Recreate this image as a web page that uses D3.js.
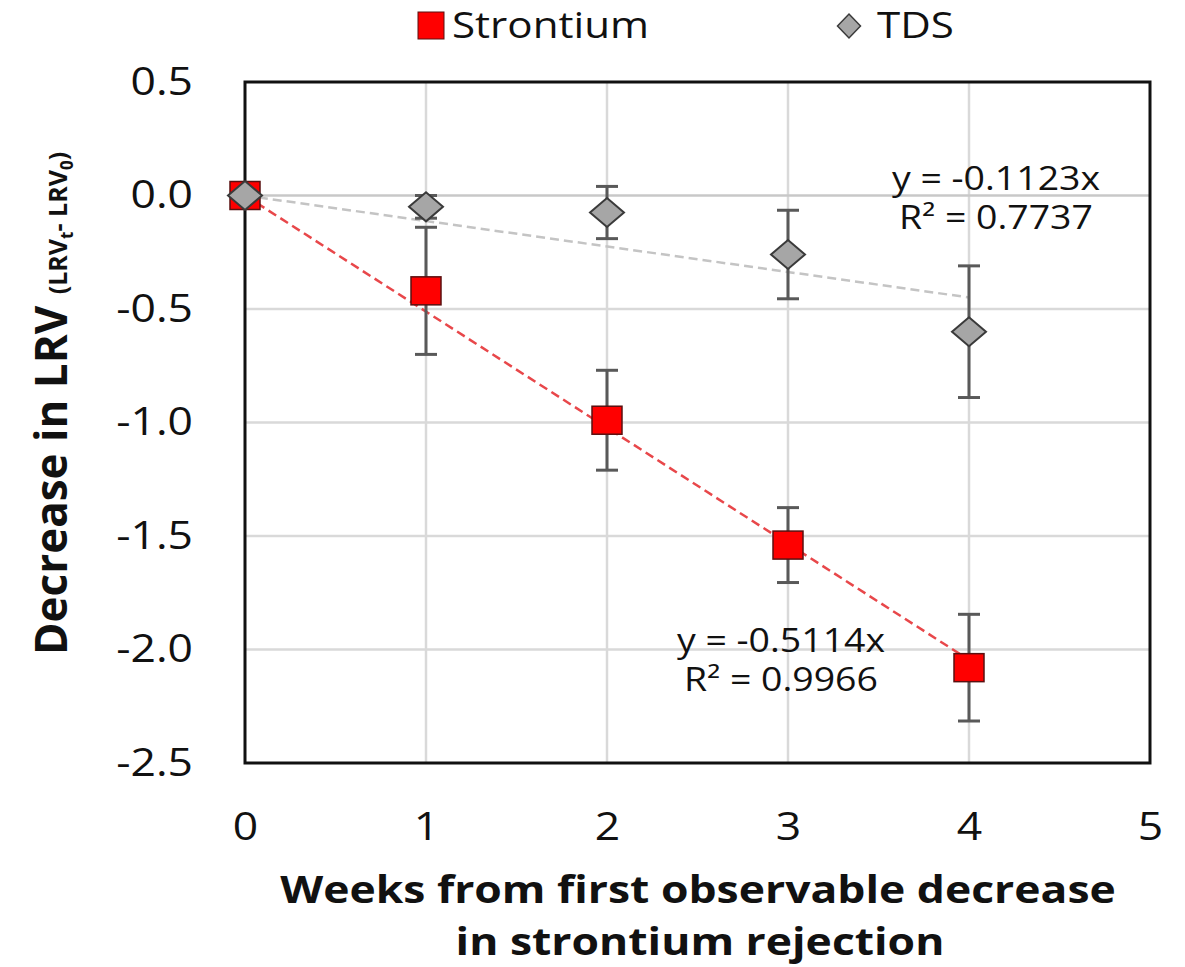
<!DOCTYPE html>
<html><head><meta charset="utf-8">
<script src="https://cdn.jsdelivr.net/npm/d3@7"></script>
<style>body{margin:0;background:#fff}svg{display:block}text{font-family:"Open Sans",sans-serif}</style>
</head><body><svg id="c" width="1185" height="967"></svg>
<script>
const weeks = [0, 1, 2, 3, 4];
const strontium = [0, -0.42, -0.99, -1.54, -2.08];
const strontiumErr = [0, 0.28, 0.22, 0.165, 0.235];
const tds = [0, -0.05, -0.075, -0.26, -0.60];
const tdsErr = [0, 0.05, 0.115, 0.195, 0.29];
const strontiumSlope = -0.5114, tdsSlope = -0.1123;
const xTicks = [0, 1, 2, 3, 4, 5];
const yTicks = [0.5, 0, -0.5, -1.0, -1.5, -2.0, -2.5];

const svg = d3.select('#c');
const L = 245, R = 1150, T = 82, B = 763;
const x = d3.scaleLinear().domain([0, 5]).range([L, R]);
const y = d3.scaleLinear().domain([-2.5, 0.5]).range([B, T]);
const HS = 1.17; // horizontal stretch of the original text

function stretch(sel) {
  sel.each(function () {
    const w = this.getComputedTextLength();
    d3.select(this).attr('textLength', w * HS).attr('lengthAdjust', 'spacingAndGlyphs');
  });
}

// gridlines
svg.append('g').selectAll('line').data(xTicks.slice(1, 5)).join('line')
  .attr('x1', d => x(d)).attr('x2', d => x(d)).attr('y1', T).attr('y2', B)
  .attr('stroke', '#d9d9d9').attr('stroke-width', 2.5);
svg.append('g').selectAll('line').data(yTicks.slice(1, 6)).join('line')
  .attr('x1', L).attr('x2', R).attr('y1', d => y(d)).attr('y2', d => y(d))
  .attr('stroke', d => d === 0 ? '#c8c8c8' : '#d9d9d9').attr('stroke-width', 2.5);

// frame
svg.append('rect').attr('x', L).attr('y', T).attr('width', R - L).attr('height', B - T)
  .attr('fill', 'none').attr('stroke', '#111').attr('stroke-width', 3);

// axes (labels only)
const xa = svg.append('g').attr('transform', `translate(0,${B})`)
  .call(d3.axisBottom(x).tickValues(xTicks).tickFormat(d3.format('d')).tickSize(0).tickPadding(50));
xa.select('.domain').remove();
xa.selectAll('text').attr('font-size', 38).attr('fill', '#111').style('font-family', '"Open Sans", sans-serif').call(stretch);
const ya = svg.append('g').attr('transform', `translate(${L},0)`)
  .call(d3.axisLeft(y).tickValues(yTicks).tickFormat(d3.format('.1f')).tickSize(0).tickPadding(52));
ya.select('.domain').remove();
ya.selectAll('text').attr('font-size', 38).attr('fill', '#111').style('font-family', '"Open Sans", sans-serif')
  .text(d => d3.format('.1f')(d).replace('−', '-')).call(stretch);

// trendlines
function trend(slope, color) {
  svg.append('line').attr('x1', x(0)).attr('y1', y(0)).attr('x2', x(4)).attr('y2', y(slope * 4))
    .attr('stroke', color).attr('stroke-width', 2.5).attr('stroke-dasharray', '9,5');
}
trend(tdsSlope, '#c4c4c4');
trend(strontiumSlope, '#e8474a');

// error bars
function errs(vals, err) {
  const g = svg.append('g').attr('stroke', '#595959').attr('stroke-width', 3);
  weeks.forEach((w, i) => {
    if (!err[i]) return;
    const cx = x(w), y1 = y(vals[i] + err[i]), y2 = y(vals[i] - err[i]);
    g.append('line').attr('x1', cx).attr('x2', cx).attr('y1', y1).attr('y2', y2);
    g.append('line').attr('x1', cx - 11).attr('x2', cx + 11).attr('y1', y1).attr('y2', y1);
    g.append('line').attr('x1', cx - 11).attr('x2', cx + 11).attr('y1', y2).attr('y2', y2);
  });
}
errs(strontium, strontiumErr);
errs(tds, tdsErr);

// markers
svg.append('g').selectAll('rect').data(weeks).join('rect')
  .attr('x', d => x(d) - 15).attr('y', (d, i) => y(strontium[i]) - 14)
  .attr('width', 30).attr('height', 28)
  .attr('fill', '#ff0000').attr('stroke', '#5a1010').attr('stroke-width', 1.5);
const dia = (cx, cy, w, h) => `M${cx - w / 2},${cy}L${cx},${cy - h / 2}L${cx + w / 2},${cy}L${cx},${cy + h / 2}Z`;
svg.append('g').selectAll('path').data(weeks).join('path')
  .attr('d', (d, i) => dia(x(d), y(tds[i]), 34, 29))
  .attr('fill', '#a6a6a6').attr('stroke', '#3a3a3a').attr('stroke-width', 2);

// equations
function eq(cx, cy, s1, r2) {
  const t = svg.append('g').attr('font-size', 32).attr('fill', '#111').attr('text-anchor', 'middle');
  t.append('text').attr('x', cx).attr('y', cy).text(s1).call(stretch);
  t.append('text').attr('x', cx).attr('y', cy + 39).text(r2).call(stretch);
}
eq(996, 190, `y = ${tdsSlope}x`, 'R² = 0.7737');
eq(781, 652, `y = ${strontiumSlope}x`, 'R² = 0.9966');

// legend
svg.append('rect').attr('x', 418).attr('y', 12).attr('width', 26).attr('height', 27)
  .attr('fill', '#ff0000').attr('stroke', '#5a1010').attr('stroke-width', 1);
svg.append('text').attr('x', 452).attr('y', 38).attr('font-size', 36).attr('fill', '#111').text('Strontium').call(stretch);
svg.append('path').attr('d', dia(849, 26, 23, 24)).attr('fill', '#a6a6a6').attr('stroke', '#3a3a3a').attr('stroke-width', 1.5);
svg.append('text').attr('x', 877).attr('y', 38).attr('font-size', 36).attr('fill', '#111').text('TDS').call(stretch);

// axis titles
const xt = svg.append('g').attr('font-size', 38).attr('font-weight', 'bold').attr('fill', '#111').attr('text-anchor', 'middle');
xt.append('text').attr('x', 698).attr('y', 903).text('Weeks from first observable decrease').call(stretch);
xt.append('text').attr('x', 700).attr('y', 955).text('in strontium rejection').call(stretch);

const yt = svg.append('text').attr('transform', 'translate(67,655) rotate(-90)').attr('text-anchor', 'start').attr('fill', '#111');
yt.append('tspan').attr('font-size', 44).attr('font-weight', 'bold').text('Decrease in LRV ');
yt.append('tspan').attr('font-size', 25).attr('font-weight', 'bold').text('(LRV');
yt.append('tspan').attr('font-size', 17).attr('font-weight', 'bold').attr('dy', 6).text('t');
yt.append('tspan').attr('font-size', 25).attr('font-weight', 'bold').attr('dy', -6).text('- LRV');
yt.append('tspan').attr('font-size', 17).attr('font-weight', 'bold').attr('dy', 6).text('0');
yt.append('tspan').attr('font-size', 25).attr('font-weight', 'bold').attr('dy', -6).text(')');
</script></body></html>
